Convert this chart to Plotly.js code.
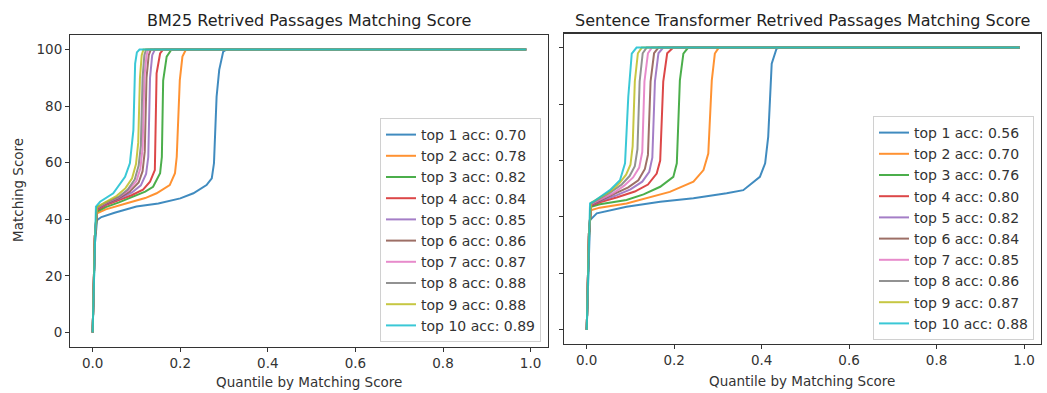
<!DOCTYPE html>
<html>
<head>
<meta charset="utf-8">
<script src="https://cdn.plot.ly/plotly-3.0.1.min.js"></script>
<style>html,body{margin:0;padding:0;background:#fff}#chart{width:1047px;height:393px}</style>
</head>
<body>
<div id="chart"></div>
<script>
// ---------- data ----------
const colors = ['#1f77b4','#ff7f0e','#2ca02c','#d62728','#9467bd','#8c564b','#e377c2','#7f7f7f','#bcbd22','#17becf'];
const topK = [1,2,3,4,5,6,7,8,9,10];
const bm25Acc = [0.70,0.78,0.82,0.84,0.85,0.86,0.87,0.88,0.88,0.89];
const stAcc   = [0.56,0.70,0.76,0.80,0.82,0.84,0.85,0.86,0.87,0.88];
const xTicks = [0,0.2,0.4,0.6,0.8,1.0];
const xTickText = ['0.0','0.2','0.4','0.6','0.8','1.0'];
const yTicks = [0,20,40,60,80,100];

// BM25 retrieved passages: quantile (x) and matching score (y)
const bm25X = [
  [0,0.002,0.005,0.01,0.02,0.05,0.1,0.15,0.2,0.23,0.26,0.272,0.277,0.283,0.289,0.298,0.306,0.99],
  [0,0.002,0.005,0.01,0.03,0.078,0.12,0.146,0.176,0.188,0.192,0.199,0.205,0.213,0.99],
  [0,0.002,0.005,0.01,0.03,0.06,0.093,0.12,0.138,0.154,0.158,0.161,0.169,0.18,0.99],
  [0,0.002,0.005,0.01,0.03,0.06,0.09,0.115,0.131,0.142,0.146,0.154,0.161,0.99],
  [0,0.002,0.005,0.01,0.03,0.06,0.09,0.11,0.122,0.127,0.131,0.136,0.142,0.99],
  [0,0.002,0.005,0.01,0.03,0.06,0.085,0.105,0.114,0.119,0.123,0.128,0.133,0.99],
  [0,0.002,0.005,0.01,0.03,0.06,0.08,0.1,0.109,0.114,0.118,0.123,0.127,0.99],
  [0,0.002,0.005,0.01,0.03,0.06,0.08,0.096,0.105,0.11,0.114,0.118,0.122,0.99],
  [0,0.002,0.005,0.01,0.03,0.055,0.075,0.09,0.099,0.104,0.108,0.112,0.116,0.99],
  [0,0.002,0.005,0.0075,0.017,0.047,0.074,0.085,0.093,0.097,0.101,0.107,0.99]
];
const bm25Y = [
  [0,13,31,39.7,40.8,42.3,44.5,45.6,47.4,49.2,52.1,54.5,59.8,83.3,92.8,99.2,100,100],
  [0,14,33,42.1,43.5,45.7,47.5,49.2,52.1,56.3,62.1,89.2,97.5,100,100],
  [0,14,33,42.7,44.3,46,48,49.8,51.5,56.3,62,89,97.5,100,100],
  [0,14,34,43.2,45,46.8,48.6,50.5,53.3,57.4,91.6,98.6,100,100],
  [0,14,34,43.6,45.4,47.2,49.5,52,56,62,90,98,100,100],
  [0,14,34,43.8,45.6,47.5,49.8,53,57,64,90,98,100,100],
  [0,14,34,44,45.8,47.8,50,53.5,58,65,90,98,100,100],
  [0,14,34,44.2,46,48,50.5,54,59,66,90,98,100,100],
  [0,14,34,44.4,46.2,48.3,51,54.5,59.5,67,90,98,100,100],
  [0,14,34,44.5,46.2,49.2,55,59.8,71.5,95,99,100,100]
];

// Sentence Transformer retrieved passages
const stX = [
  [0,0.002,0.005,0.0076,0.023,0.091,0.168,0.244,0.32,0.358,0.396,0.408,0.415,0.423,0.434,0.44,0.99],
  [0,0.002,0.005,0.009,0.03,0.091,0.19,0.244,0.267,0.278,0.286,0.293,0.302,0.99],
  [0,0.002,0.005,0.01,0.03,0.091,0.13,0.168,0.198,0.206,0.213,0.221,0.232,0.99],
  [0,0.002,0.005,0.01,0.03,0.07,0.11,0.14,0.16,0.168,0.175,0.184,0.198,0.99],
  [0,0.002,0.005,0.01,0.03,0.065,0.1,0.127,0.143,0.15,0.156,0.164,0.175,0.99],
  [0,0.002,0.005,0.01,0.03,0.06,0.095,0.118,0.133,0.14,0.146,0.154,0.164,0.99],
  [0,0.002,0.005,0.01,0.03,0.06,0.085,0.106,0.12,0.127,0.132,0.14,0.149,0.99],
  [0,0.002,0.005,0.01,0.03,0.055,0.08,0.098,0.11,0.116,0.121,0.128,0.137,0.99],
  [0,0.002,0.005,0.01,0.03,0.055,0.075,0.09,0.1,0.105,0.11,0.117,0.126,0.99],
  [0,0.002,0.005,0.0076,0.015,0.053,0.076,0.0876,0.095,0.103,0.114,0.99]
];
const stY = [
  [0,12,30,38.9,41.3,43.6,45.4,46.6,48.4,49.5,54.2,59,68.4,94.3,99.6,100,100],
  [0,13,32,42.4,43.3,44.8,48.9,52.5,56.6,62.5,88.4,97.9,100,100],
  [0,14,33,43.6,44.5,46,48,50.7,54.2,59,88.4,97.9,100,100],
  [0,14,34,44,45.2,47,49,51.5,55.4,60,88,98,100,100],
  [0,14,34,44.2,45.6,47.5,49.8,52.5,56,61,88,98,100,100],
  [0,14,34,44.4,45.9,48,50.5,53,57,62,88,98,100,100],
  [0,14,34,44.6,46.2,48.4,51,54,57.5,63,88,98,100,100],
  [0,14,34,44.8,46.5,48.8,51.5,54.5,58,64,88,98,100,100],
  [0,14,34,45,46.8,49.2,52,55,58.5,65,88,98,100,100],
  [0,14,34,44.8,45.4,49.5,53,59,82.5,97.9,100,100]
];

// ---------- traces ----------
const FONT = 'DejaVu Sans, Liberation Sans, sans-serif';
const traces = [];
topK.forEach((k, i) => {
  traces.push({
    x: bm25X[i], y: bm25Y[i], type: 'scatter', mode: 'lines',
    name: 'top ' + k + ' acc: ' + bm25Acc[i].toFixed(2),
    line: {color: colors[i], width: 2}, opacity: 0.85,
    xaxis: 'x', yaxis: 'y', legend: 'legend', hoverinfo: 'skip'
  });
});
topK.forEach((k, i) => {
  traces.push({
    x: stX[i], y: stY[i], type: 'scatter', mode: 'lines',
    name: 'top ' + k + ' acc: ' + stAcc[i].toFixed(2),
    line: {color: colors[i], width: 2}, opacity: 0.85,
    xaxis: 'x2', yaxis: 'y2', legend: 'legend2', hoverinfo: 'skip'
  });
});

const W = 1047, H = 393;
const axBase = {
  showline: true, mirror: true, linecolor: '#333', linewidth: 1.1,
  ticks: 'outside', ticklen: 4, tickwidth: 1, tickcolor: '#333',
  showgrid: false, zeroline: false, fixedrange: true,
  tickfont: {family: FONT, size: 13.5, color: '#333'}
};
const legBase = {
  font: {family: FONT, size: 14, color: '#333'},
  bgcolor: 'rgba(255,255,255,0.85)', bordercolor: '#d0d0d0', borderwidth: 1,
  xanchor: 'right', yanchor: 'bottom',
  traceorder: 'normal', itemwidth: 30
};

const layout = {
  width: W, height: H, margin: {l: 0, r: 0, t: 0, b: 0},
  paper_bgcolor: '#fff', plot_bgcolor: '#fff',
  font: {family: FONT, color: '#333'},
  showlegend: true,
  xaxis: Object.assign({}, axBase, {domain: [70.1/W, 547.9/W], range: [-0.0515, 1.0395],
    tickvals: xTicks, ticktext: xTickText, anchor: 'y'}),
  yaxis: Object.assign({}, axBase, {domain: [1-346.65/H, 1-35.35/H], range: [-5, 105],
    tickvals: yTicks, anchor: 'x'}),
  xaxis2: Object.assign({}, axBase, {domain: [564.2/W, 1041.3/W], range: [-0.0515, 1.0395],
    tickvals: xTicks, ticktext: xTickText, anchor: 'y2'}),
  yaxis2: Object.assign({}, axBase, {domain: [1-344/H, 1-33.5/H], range: [-5, 105],
    tickvals: yTicks, showticklabels: false, anchor: 'x2'}),
  legend: Object.assign({}, legBase, {x: 541/W, y: 1-342/H}),
  legend2: Object.assign({}, legBase, {x: 1034/W, y: 1-340/H}),
  annotations: [
    {text: 'BM25 Retrived Passages Matching Score', xref: 'paper', yref: 'paper',
     x: 309/W, y: 1-20/H, showarrow: false, xanchor: 'center', yanchor: 'middle',
     font: {family: FONT, size: 16, color: '#222'}},
    {text: 'Sentence Transformer Retrived Passages Matching Score', xref: 'paper', yref: 'paper',
     x: 802/W, y: 1-20/H, showarrow: false, xanchor: 'center', yanchor: 'middle',
     font: {family: FONT, size: 16, color: '#222'}},
    {text: 'Quantile by Matching Score', xref: 'paper', yref: 'paper',
     x: 309/W, y: 1-382/H, showarrow: false, xanchor: 'center', yanchor: 'middle',
     font: {family: FONT, size: 13.5, color: '#333'}},
    {text: 'Quantile by Matching Score', xref: 'paper', yref: 'paper',
     x: 802/W, y: 1-381/H, showarrow: false, xanchor: 'center', yanchor: 'middle',
     font: {family: FONT, size: 13.5, color: '#333'}},
    {text: 'Matching Score', xref: 'paper', yref: 'paper', textangle: -90,
     x: 18/W, y: 1-190/H, showarrow: false, xanchor: 'center', yanchor: 'middle',
     font: {family: FONT, size: 13.5, color: '#333'}}
  ]
};

Plotly.newPlot('chart', traces, layout, {displayModeBar: false, staticPlot: true});
</script>
</body>
</html>
